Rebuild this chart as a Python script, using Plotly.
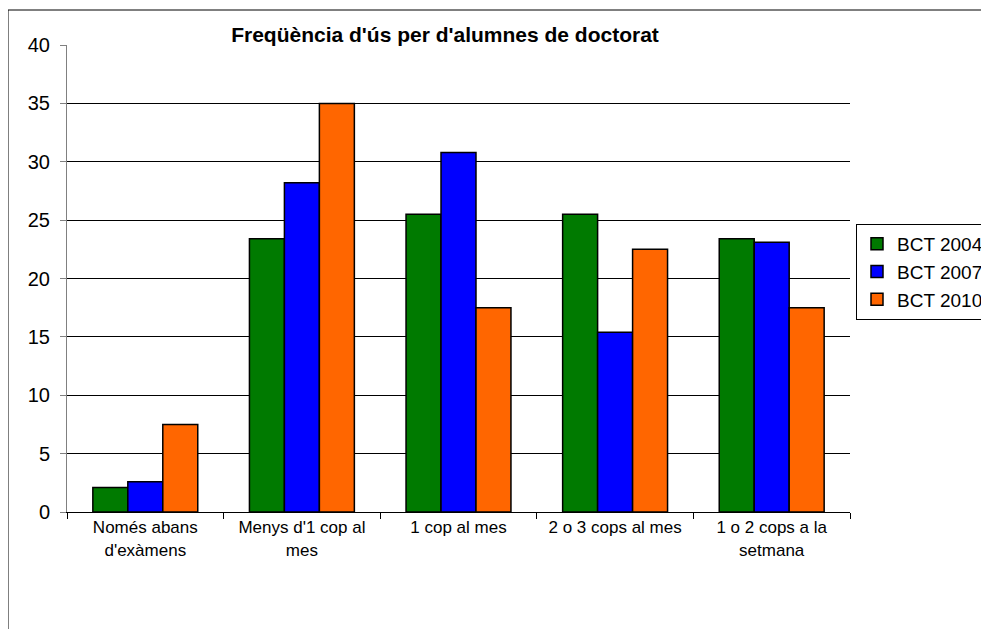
import plotly.graph_objects as go

categories = ["Només abans<br>d'exàmens", "Menys d'1 cop al<br>mes", "1 cop al mes",
              "2 o 3 cops al mes", "1 o 2 cops a la<br>setmana"]
bct_2004 = [2.1, 23.4, 25.5, 25.5, 23.4]
bct_2007 = [2.6, 28.2, 30.8, 15.4, 23.1]
bct_2010 = [7.5, 35.0, 17.5, 22.5, 17.5]

fig = go.Figure()

for name, vals, color in [("BCT 2004", bct_2004, "#007A00"),
                          ("BCT 2007", bct_2007, "#0000FF"),
                          ("BCT 2010", bct_2010, "#FF6600")]:
    fig.add_trace(go.Bar(
        x=categories,
        y=vals,
        name=name,
        marker=dict(color=color, line=dict(color="black", width=1.5))
    ))

# the page body adds an 8px offset, so positions below are in figure pixels
L, T, R, B = 59, 37, 842, 504
pw, ph = R - L, B - T

# outer chart border (clipped at right and bottom, like the reference)
fig.add_shape(type="rect", xref="paper", yref="paper",
              x0=(0 - L) / pw, x1=(1010 - L) / pw,
              y0=(B - 650) / ph, y1=(B - 2) / ph,
              line=dict(color="black", width=1), layer="below")

fig.update_layout(
    width=989, height=629,
    margin=dict(l=L, r=989 - R, t=T, b=629 - B, autoexpand=False),
    paper_bgcolor="white", plot_bgcolor="white",
    font=dict(family="Liberation Sans, Arial, sans-serif", color="black"),
    title=dict(text="<b>Freqüència d'ús per d'alumnes de doctorat</b>",
               x=437 / 989, xanchor="center", y=1 - 27 / 629, yanchor="middle",
               font=dict(size=21)),
    barmode="group", bargap=0.33, bargroupgap=0,
    legend=dict(x=(848 - L) / pw, xanchor="left", y=(B - 264) / ph, yanchor="middle",
                bordercolor="black", borderwidth=1, font=dict(size=19),
                bgcolor="white", itemwidth=30),
    xaxis=dict(showline=True, linecolor="black", linewidth=1, ticks="outside",
               tickson="boundaries", ticklen=6, tickcolor="black",
               tickfont=dict(size=17), showgrid=False),
    yaxis=dict(range=[0, 40], dtick=5, showline=True, linecolor="gray", linewidth=1,
               ticks="outside", ticklen=6, tickcolor="gray", tickfont=dict(size=20),
               showgrid=True, gridcolor="black", gridwidth=1, zeroline=False,
               ticklabelstandoff=6),
)

fig.write_html("out.html")
